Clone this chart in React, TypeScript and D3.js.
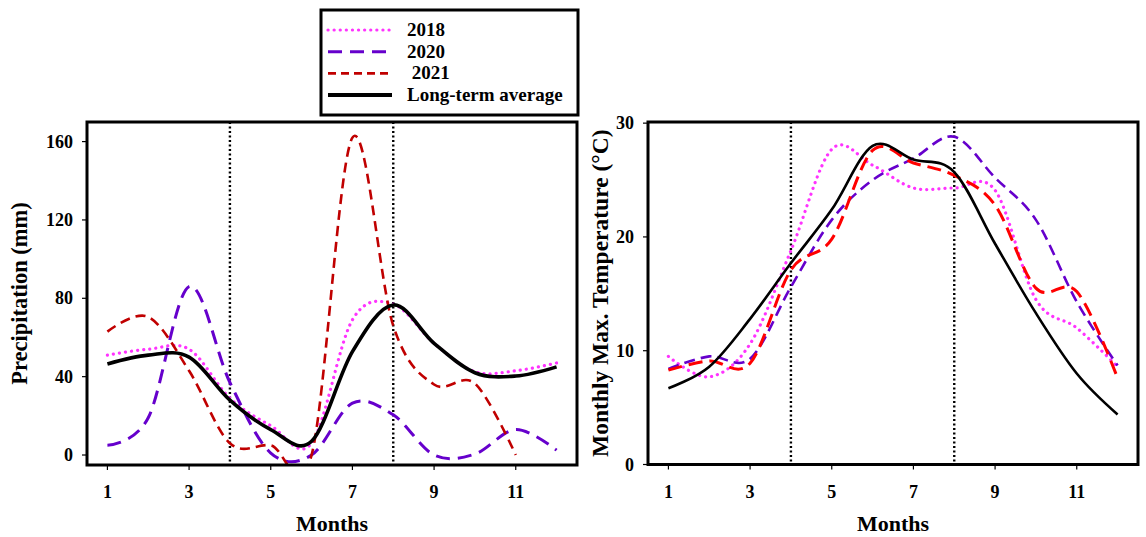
import React from "react";
import * as d3 from "d3";

const months = [1, 2, 3, 4, 5, 6, 7, 8, 9, 10, 11, 12];
const xTicks = [1, 3, 5, 7, 9, 11];
const stageLines = [4, 8];

const precipTicks = [0, 40, 80, 120, 160];
const precip2018 = [51, 54, 54, 29, 15, 6, 69, 77, 57, 42.5, 43, 47];
const precip2020 = [5, 19, 86, 37, 1, 0, 26.5, 20.5, 0, 0.5, 13, 2.5];
const precip2021 = [63, 70.5, 43, 6, 5, 0, 162, 66, 36, 36.5, 0];
const precipLTA = [46.5, 51, 50, 28, 13, 7, 52.8, 76.6, 57, 42, 40.3, 45];

const tempTicks = [0, 10, 20, 30];
const tmax2018 = [9.5, 7.7, 10.6, 18.8, 27.7, 26.3, 24.3, 24.3, 24.1, 14.5, 12, 8.6];
const tmax2020 = [8.4, 9.5, 9.3, 15.6, 21.5, 25, 26.9, 28.8, 25.2, 21.5, 14.3, 8.7];
const tmax2021 = [8.3, 9.1, 8.9, 17.1, 19.8, 27.6, 26.5, 25.4, 22.8, 15.5, 15.2, 7.6];
const tmaxLTA = [6.7, 8.6, 12.8, 17.7, 22.4, 28, 26.8, 25.7, 19.4, 13.3, 8, 4.4];

const legendLabels = ["2018", "2020", " 2021", "Long-term average"];

const FONT = "'Liberation Serif', 'Times New Roman', serif";

type Style = { color: string; width: number; dash?: string; cap?: "round" | "butt" };
type Series = { values: number[]; style: Style };

const dotted = (c: string): Style => ({ color: c, width: 3.2, dash: "0.1 6", cap: "round" });

function Panel(props: {
  id: string;
  left: number;
  right: number;
  top: number;
  bottom: number;
  yDomain: [number, number];
  yTicks: number[];
  title: string;
  titleX: number;
  titleSize: number;
  series: Series[];
}) {
  const { id, left, right, top, bottom, yDomain, yTicks, title, titleX, titleSize, series } = props;
  const x = d3.scaleLinear().domain([0.5, 12.5]).range([left, right]);
  const y = d3.scaleLinear().domain(yDomain).range([bottom, top]);
  const line = d3
    .line<number>()
    .x((_, i) => x(months[i]))
    .y((v) => y(v))
    .curve(d3.curveCardinal.tension(0));
  return (
    <g>
      <defs>
        <clipPath id={id}>
          <rect x={left} y={top} width={right - left} height={bottom - top} />
        </clipPath>
      </defs>
      {stageLines.map((m) => (
        <line
          key={m}
          x1={x(m)}
          x2={x(m)}
          y1={top}
          y2={bottom}
          stroke="#000"
          strokeWidth={2.4}
          strokeDasharray="2 2.5"
        />
      ))}
      <g clipPath={`url(#${id})`}>
        {series.map((s, i) => (
          <path
            key={i}
            d={line(s.values) || ""}
            fill="none"
            stroke={s.style.color}
            strokeWidth={s.style.width}
            strokeDasharray={s.style.dash}
            strokeLinecap={s.style.cap || "butt"}
          />
        ))}
      </g>
      <rect x={left} y={top} width={right - left} height={bottom - top} fill="none" stroke="#000" strokeWidth={3} />
      {xTicks.map((t) => (
        <g key={t}>
          <line x1={x(t)} x2={x(t)} y1={bottom} y2={bottom + 5} stroke="#000" strokeWidth={1.2} />
          <text x={x(t)} y={bottom + 33} textAnchor="middle" fontFamily={FONT} fontWeight="bold" fontSize={18}>
            {t}
          </text>
        </g>
      ))}
      {yTicks.map((t) => (
        <g key={t}>
          <line x1={left - 5} x2={left} y1={y(t)} y2={y(t)} stroke="#000" strokeWidth={1.2} />
          <text x={left - 14} y={y(t) + 6} textAnchor="end" fontFamily={FONT} fontWeight="bold" fontSize={18}>
            {t}
          </text>
        </g>
      ))}
      <text
        x={(left + right) / 2}
        y={531}
        textAnchor="middle"
        fontFamily={FONT}
        fontWeight="bold"
        fontSize={22}
      >
        Months
      </text>
      <text
        transform={`translate(${titleX},${(top + bottom) / 2}) rotate(-90)`}
        textAnchor="middle"
        fontFamily={FONT}
        fontWeight="bold"
        fontSize={titleSize}
      >
        {title}
      </text>
    </g>
  );
}

export default function App() {
  const leftSeries: Series[] = [
    { values: precip2018, style: dotted("#ff33ff") },
    { values: precip2020, style: { color: "#6600cc", width: 3, dash: "14 8" } },
    { values: precip2021, style: { color: "#c00000", width: 2.6, dash: "10 6" } },
    { values: precipLTA, style: { color: "#000", width: 3.6 } },
  ];
  const rightSeries: Series[] = [
    { values: tmax2018, style: dotted("#ff33ff") },
    { values: tmax2020, style: { color: "#6600cc", width: 2.6, dash: "11 6" } },
    { values: tmax2021, style: { color: "#ff0000", width: 3, dash: "14 7" } },
    { values: tmaxLTA, style: { color: "#000", width: 2.6 } },
  ];
  const legendStyles: Style[] = [
    dotted("#ff33ff"),
    { color: "#6600cc", width: 3, dash: "14 8" },
    { color: "#c00000", width: 2.6, dash: "8 5" },
    { color: "#000", width: 4 },
  ];
  const legendY = d3.scaleLinear().domain([0, 3]).range([30, 95]);
  return (
    <svg
      width={1146}
      height={537}
      style={{ position: "absolute", left: 0, top: 0, background: "#fff" }}
    >
      <Panel
        id="clipL"
        left={87}
        right={577}
        top={122}
        bottom={465}
        yDomain={[-5.1, 170]}
        yTicks={precipTicks}
        title="Precipitation (mm)"
        titleX={27}
        titleSize={22.5}
        series={leftSeries}
      />
      <Panel
        id="clipR"
        left={648}
        right={1138}
        top={122}
        bottom={464.5}
        yDomain={[0, 30.1]}
        yTicks={tempTicks}
        title="Monthly Max. Temperature (°C)"
        titleX={608}
        titleSize={23.5}
        series={rightSeries}
      />
      <g>
        <rect x={321} y={10} width={257} height={105} fill="#fff" stroke="#000" strokeWidth={3} />
        {legendLabels.map((lab, i) => (
          <g key={i}>
            <line
              x1={328}
              x2={392}
              y1={legendY(i)}
              y2={legendY(i)}
              stroke={legendStyles[i].color}
              strokeWidth={legendStyles[i].width}
              strokeDasharray={legendStyles[i].dash}
              strokeLinecap={legendStyles[i].cap || "butt"}
            />
            <text
              x={407}
              y={legendY(i) + 6}
              fontFamily={FONT}
              fontWeight="bold"
              fontSize={19}
              style={{ whiteSpace: "pre" }}
            >
              {lab}
            </text>
          </g>
        ))}
      </g>
    </svg>
  );
}
